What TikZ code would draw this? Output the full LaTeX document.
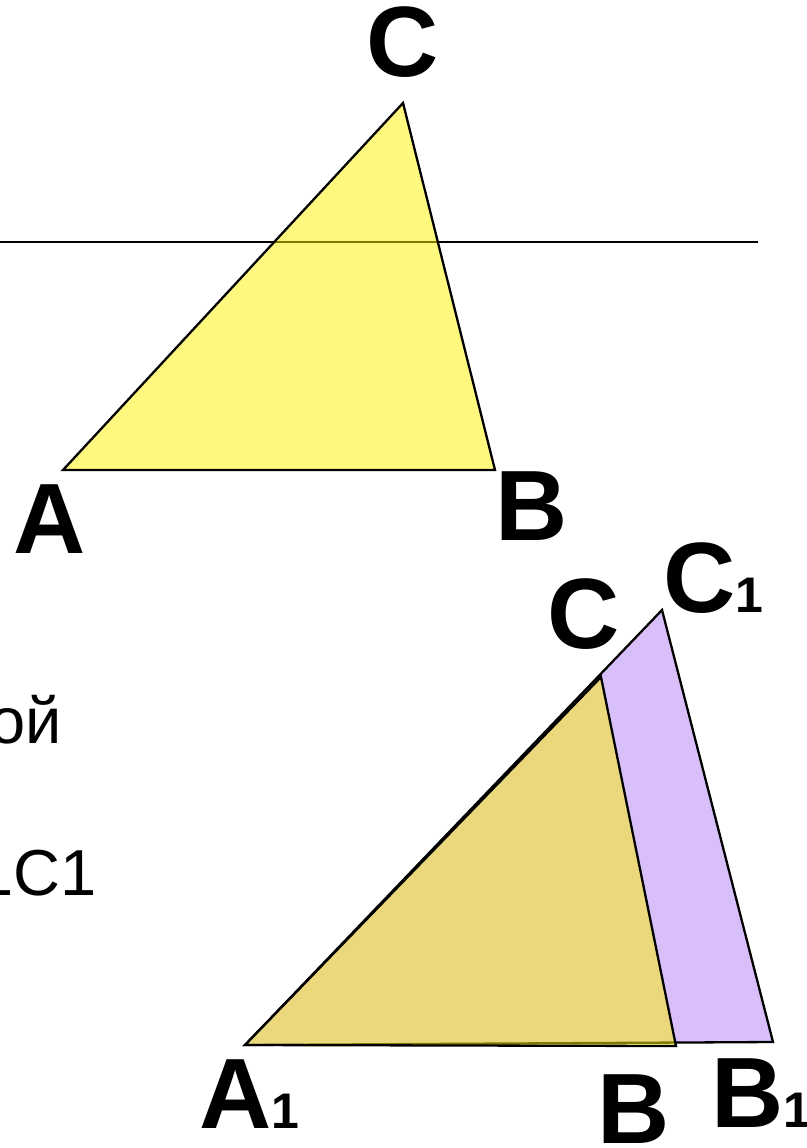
\documentclass[tikz,border=0pt]{standalone}
\usepackage{fontspec}
\setmainfont{Liberation Sans}
\begin{document}
\begin{tikzpicture}[x=1pt,y=-1pt,
  edge/.style={draw=black,line width=2.3pt,line join=miter},
  yel/.style={fill=yellow,fill opacity=0.5},
  lav/.style={fill={rgb,255:red,216;green,191;blue,250}},
  biglbl/.style={font=\bfseries\fontsize{100}{100}\selectfont,inner sep=0pt},
  txt/.style={font=\fontsize{65}{65}\selectfont,inner sep=0pt}]
\useasboundingbox (0,0) rectangle (806,1148);
% top figure
\coordinate (A) at (63,470);
\coordinate (B) at (495,470);
\coordinate (C) at (403,103);
\coordinate (L1) at (0,242);
\coordinate (L2) at (758,242);
\draw[line width=2.4pt] (L1) -- (L2);
\path[yel] (A) -- (B) -- (C) -- cycle;
\draw[edge] (A) -- (B) -- (C) -- cycle;
\node[biglbl,anchor=base] (lC) at (403,76) {C};
\node[biglbl,anchor=base] (lA) at (50,553) {A};
\node[biglbl,anchor=base] (lB) at (532,540) {B};
% bottom figure
\coordinate (A1) at (245,1045);
\coordinate (B1) at (773,1042);
\coordinate (C1) at (662,610);
\coordinate (Bb) at (676,1046);
\coordinate (Cb) at (601,677);
\path[lav] (A1) -- (B1) -- (C1) -- cycle;
\draw[edge] (A1) -- (B1) -- (C1) -- cycle;
\path[yel] (A1) -- (Bb) -- (Cb) -- cycle;
\draw[edge] (A1) -- (Bb) -- (Cb) -- cycle;
\node[biglbl,anchor=base west] (lA1) at (199,1128) {A{\fontsize{50}{50}\selectfont 1}};
\node[biglbl,anchor=base] (lBb) at (634,1143) {B};
\node[biglbl,anchor=base west] (lB1) at (711,1127) {B{\fontsize{50}{50}\selectfont 1}};
\node[biglbl,anchor=base] (lCb) at (584,648) {C};
\node[biglbl,anchor=base west] (lC1) at (663,612) {C{\fontsize{50}{50}\selectfont 1}};
% cut-off text at left
\node[txt,anchor=base east] (t1) at (62,743) {ой};
\node[txt,anchor=base east] (t2) at (97,895) {1С1};
\end{tikzpicture}
\end{document}
